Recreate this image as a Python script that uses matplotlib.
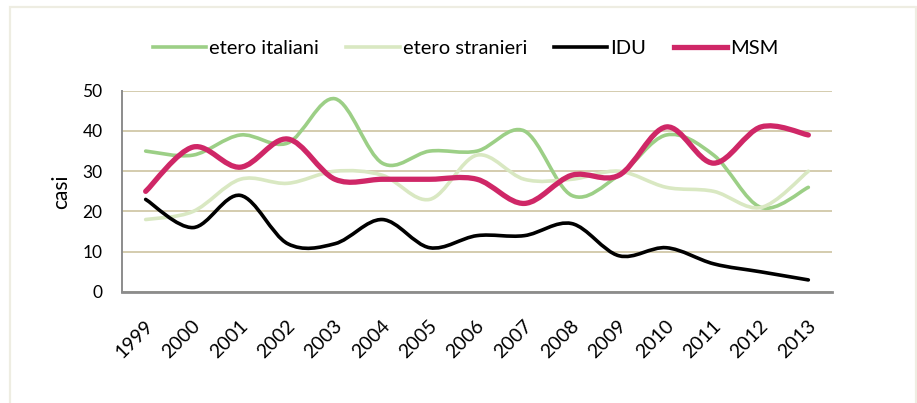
import numpy as np
import matplotlib
matplotlib.use("Agg")
import matplotlib.pyplot as plt
from matplotlib.path import Path
from matplotlib.patches import PathPatch, Rectangle
from matplotlib.lines import Line2D
import matplotlib.transforms as mtransforms

years = ["1999", "2000", "2001", "2002", "2003", "2004", "2005", "2006",
         "2007", "2008", "2009", "2010", "2011", "2012", "2013"]
etero_italiani = [35, 34, 39, 37, 48, 32, 35, 35, 40, 24, 29, 39, 34, 21, 26]
etero_stranieri = [18, 20, 28, 27, 30, 29, 23, 34, 28, 28, 30, 26, 25, 21, 30]
idu = [23, 16, 24, 12, 12, 18, 11, 14, 14, 17, 9, 11, 7, 5, 3]
msm = [25, 36, 31, 38, 28, 28, 28, 28, 22, 29, 29, 41, 32, 41, 39]

series = [
    ("etero italiani", etero_italiani, "#9CCF86", 2.6),
    ("etero stranieri", etero_stranieri, "#D9E8C2", 2.6),
    ("IDU", idu, "#000000", 2.6),
    ("MSM", msm, "#CF2767", 3.8),
]


def smooth_path(xs, ys):
    # Excel style smoothed line: cubic bezier through every point
    pts = np.column_stack([xs, ys]).astype(float)
    n = len(pts)
    verts = [pts[0]]
    codes = [Path.MOVETO]
    for i in range(n - 1):
        p0 = pts[i - 1] if i > 0 else pts[i]
        p1 = pts[i]
        p2 = pts[i + 1]
        p3 = pts[i + 2] if i + 2 < n else pts[i + 1]
        c1 = p1 + (p2 - p0) / 6.0
        c2 = p2 - (p3 - p1) / 6.0
        verts += [c1, c2, p2]
        codes += [Path.CURVE4] * 3
    return Path(verts, codes)


plt.rcParams['font.family'] = ['Lato', 'DejaVu Sans']

fig = plt.figure(figsize=(9.17, 4.03), dpi=100)
fig.patches.append(Rectangle((10 / 917, -0.01), 906 / 917, 1 - 7 / 403 + 0.01,
                             transform=fig.transFigure, fill=False,
                             edgecolor="#EEEDE2", linewidth=1.6))

ax = fig.add_axes([122 / 917, 1 - 292 / 403, 710 / 917, 201.3 / 403])
x = np.arange(len(years))

handles = []
for name, vals, col, lw in series:
    patch = PathPatch(smooth_path(x, vals), facecolor="none", edgecolor=col,
                      linewidth=lw, capstyle="round", joinstyle="round")
    ax.add_patch(patch)
    handles.append(Line2D([], [], color=col, linewidth=lw, label=name))

ax.set_xlim(-0.5, len(years) - 0.5)
ax.set_ylim(0, 50)
ax.set_yticks([0, 10, 20, 30, 40, 50])
ax.yaxis.grid(True, color="#C9BF98", linewidth=1.1)
ax.set_axisbelow(True)
for s in ["top", "right"]:
    ax.spines[s].set_visible(False)
ax.spines["left"].set_color("#8C8C8C")
ax.spines["left"].set_linewidth(1.4)
ax.spines["bottom"].set_color("#8C8C8C")
ax.spines["bottom"].set_linewidth(2.0)
ax.tick_params(axis="y", length=0, pad=14, labelsize=12.5)
ax.tick_params(axis="x", length=0, pad=18, labelsize=14)
ax.set_xticks(x)
ax.set_xticklabels(years, rotation=45, ha="right", va="top",
                   rotation_mode="anchor")
offset = mtransforms.ScaledTranslation(-1 / 72, 0, fig.dpi_scale_trans)
for lab in ax.get_xticklabels():
    lab.set_transform(lab.get_transform() + offset)
ax.set_ylabel("casi", fontsize=15, labelpad=8)

fig.legend(handles=handles, loc="center",
           bbox_to_anchor=(0.5 + 7 / 917, 1 - 48 / 403),
           ncol=4, frameon=False, fontsize=14.5, handlelength=2.65,
           handletextpad=0.15, columnspacing=1.35)

fig.savefig("out.png", dpi=100)
